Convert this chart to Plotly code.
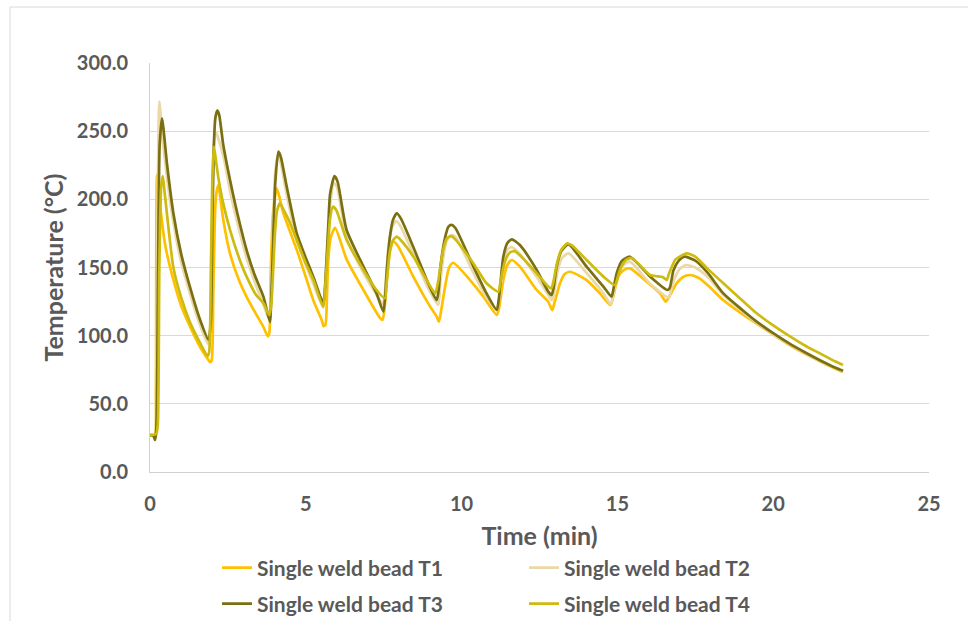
import plotly.graph_objects as go

# ---------------- data ----------------
series_names = ["Single weld bead T1", "Single weld bead T2",
                "Single weld bead T3", "Single weld bead T4"]

t1_time = [0, 0.15, 0.19, 0.23, 0.35, 0.5, 0.75, 1.0, 1.28, 1.6, 1.85, 1.93, 1.98,
           2.03, 2.08, 2.12, 2.19, 2.35, 2.57, 2.85, 3.1, 3.4, 3.64, 3.78,
           3.83, 3.88, 3.95, 4.07, 4.28, 4.71, 5.0, 5.24, 5.51, 5.57, 5.63,
           5.68, 5.72, 5.8, 5.94, 6.31, 6.85, 7.38, 7.46,
           7.52, 7.6, 7.7, 7.81, 7.95, 8.45, 8.99, 9.2, 9.27,
           9.32, 9.47, 9.6, 9.73, 10.27, 10.7, 11.13,
           11.2, 11.34, 11.47, 11.61, 11.87, 12.41, 12.78, 12.91,
           12.98, 13.16, 13.3, 13.48, 14.01, 14.44, 14.78,
           14.88, 15.03, 15.2, 15.4, 15.94, 16.37, 16.55,
           16.65, 16.9, 17.1, 17.33, 17.6, 17.9, 18.4, 19.0, 19.47, 20.0, 20.5, 21.0, 21.5, 22.0, 22.24]
t1_temp = [27, 27, 60, 218, 190, 165, 141, 122, 107, 92, 83, 80.5, 82,
           130, 185, 203, 210.5, 185, 160, 141, 128.5, 116, 106.5, 99.5,
           102, 150, 190, 208, 190, 163, 143, 126, 111.5, 107, 108,
           130, 155, 172, 179, 156, 133.5, 113, 111.5,
           118, 141, 162, 169, 166, 143.3, 121.3, 114, 110.3,
           115, 136, 150, 153.5, 140.8, 128.6, 115.2,
           120, 140.8, 152, 155.5, 150.6, 133.5, 124.9, 118.8,
           124, 138.4, 145, 146.9, 140.8, 131, 122.5,
           130, 143.3, 148, 149.4, 139.6, 131, 124.9,
           128, 138.4, 143, 144.5, 142.5, 137, 126, 116, 108.8, 100.8, 93.5, 87, 81.2, 75.8, 73.4]

t2_time = [0, 0.17, 0.2, 0.24, 0.3, 0.4, 0.55, 0.75, 1.0, 1.28, 1.6, 1.86,
           1.92, 1.98, 2.04, 2.1, 2.35, 2.57, 2.8, 3.1, 3.35, 3.64, 3.82,
           3.87, 3.95, 4.02, 4.1, 4.18, 4.39, 4.71, 5.0, 5.24, 5.55,
           5.6, 5.72, 5.8, 5.9, 6.0, 6.31, 6.85, 7.27, 7.48,
           7.55, 7.65, 7.78, 7.9, 8.02, 8.45, 8.88, 9.25,
           9.32, 9.47, 9.58, 9.7, 9.82, 10.38, 10.8, 11.12,
           11.2, 11.34, 11.47, 11.6, 11.87, 12.41, 12.78, 12.9,
           12.97, 13.08, 13.22, 13.43, 14.01, 14.55, 14.79,
           14.87, 14.98, 15.15, 15.4, 16.05, 16.57,
           16.65, 16.8, 17.0, 17.2, 17.5, 17.9, 18.4, 19.0, 19.47, 20.0, 20.5, 21.0, 21.5, 22.0, 22.24]
t2_temp = [27, 27, 40, 180, 271.6, 245, 215, 183, 154, 131, 108, 94,
           100, 180, 235, 250, 232, 206, 183, 157, 140, 123, 112,
           125, 180, 220, 232, 228, 203, 170, 152, 138, 121,
           128, 175, 200, 212, 209, 172, 146, 130, 123,
           135, 165, 180, 184, 181, 160, 137, 122.5,
           140, 165, 172, 174, 172, 146, 128, 120,
           126, 153, 163, 165, 160, 143, 130, 126,
           132, 147, 157, 160.4, 146, 131, 123,
           130, 142, 151, 154.3, 138, 128.6,
           128, 140, 149, 151.8, 150, 143, 130, 118, 109.5, 101, 94, 87.5, 81.5, 76, 73.6]

t3_time = [0, 0.1, 0.16, 0.2, 0.26, 0.31, 0.385, 0.55, 0.75, 1.0, 1.28, 1.6, 1.88,
           1.95, 2.0, 2.05, 2.1, 2.16, 2.22, 2.35, 2.57, 2.8, 3.1, 3.35, 3.64, 3.85,
           3.88, 3.96, 4.02, 4.12, 4.2, 4.39, 4.71, 5.0, 5.24, 5.56,
           5.6, 5.72, 5.78, 5.92, 6.02, 6.31, 6.85, 7.27, 7.49,
           7.55, 7.6, 7.7, 7.8, 7.92, 8.05, 8.45, 8.88, 9.2,
           9.27, 9.31, 9.47, 9.58, 9.68, 9.8, 10.38, 10.8, 11.13,
           11.2, 11.34, 11.47, 11.61, 11.87, 12.41, 12.78, 12.89,
           12.95, 13.05, 13.2, 13.43, 14.01, 14.55, 14.81,
           14.88, 14.98, 15.15, 15.4, 16.05, 16.6,
           16.68, 16.8, 16.97, 17.15, 17.5, 17.9, 18.4, 19.0, 19.47, 20.0, 20.5, 21.0, 21.5, 22.0, 22.24]
t3_temp = [27, 27, 23.5, 30, 150, 240, 259.4, 225, 189.8, 160, 135.9, 112, 96.8,
           110, 180, 240, 260, 265, 262, 240, 214, 190, 162.8, 145, 128.6, 110,
           120, 175, 212, 235, 231, 209, 175, 157, 143.3, 123.7,
           130, 180, 204, 217, 213, 177.5, 150.6, 131, 117.6,
           130, 148, 172.6, 185, 189.8, 186, 165, 141, 126,
           135, 148, 172, 180, 181.2, 179, 150.6, 131, 118.8,
           128, 158, 168, 170.7, 166.5, 148.2, 132.3, 129.8,
           135, 150.6, 162, 167, 150.6, 136, 128.6,
           135, 146, 155, 157.9, 143.3, 133.5,
           135, 148, 155, 157.9, 155, 146, 131, 119, 110.3, 101.8, 94.5, 88, 82, 76.5, 74.3]

t4_time = [0, 0.2, 0.25, 0.3, 0.36, 0.41, 0.47, 0.55, 0.75, 1.0, 1.28, 1.6, 1.85,
           1.9, 1.95, 2.0, 2.05, 2.12, 2.2, 2.35, 2.57, 2.89, 3.1, 3.4, 3.64, 3.83,
           3.9, 4.01, 4.08, 4.17, 4.27, 4.45, 4.71, 5.0, 5.24, 5.56,
           5.62, 5.72, 5.78, 5.87, 5.98, 6.31, 6.85, 7.27, 7.54,
           7.6, 7.7, 7.8, 7.92, 8.05, 8.45, 8.88, 9.15,
           9.25, 9.4, 9.52, 9.65, 9.78, 10.38, 10.8, 11.18,
           11.25, 11.4, 11.55, 11.7, 11.87, 12.41, 12.78, 12.88,
           12.95, 13.05, 13.2, 13.4, 13.55, 14.01, 14.55, 14.92,
           15.0, 15.08, 15.25, 15.46, 16.05, 16.45, 16.58,
           16.66, 16.85, 17.0, 17.22, 17.5, 17.9, 18.4, 19.0, 19.47, 20.0, 20.5, 21.0, 21.5, 22.0, 22.24]
t4_temp = [27, 28, 35, 150, 210, 217, 205, 188, 150, 128, 110, 95, 85,
           88, 140, 215, 238.6, 228, 215, 197, 177.5, 155, 143.3, 130, 123.7, 115,
           125, 175, 192, 197, 193, 185, 170, 153, 141, 121,
           135, 168, 186, 194.6, 192, 170.2, 148.2, 133.5, 127.4,
           140, 162, 170, 172.6, 170, 158, 140.8, 131,
           140, 162, 171, 173, 171, 153, 138.4, 132.3,
           140, 155, 161, 162, 159, 145.7, 136, 134.7,
           140, 152, 163, 167.7, 166, 155.5, 143.3, 137,
           142, 148, 155, 157, 144.5, 143, 140.8,
           145.7, 155.5, 158, 160.4, 158, 149, 138.4, 126, 116.4, 107.5, 100, 93, 87, 81, 78.5]

x_ticks = [0, 5, 10, 15, 20, 25]
y_ticks = [0, 50, 100, 150, 200, 250, 300]

colors = ["#FFC000", "#EAD9A6", "#7A7012", "#CDBB10"]

# ---------------- figure ----------------
W, H = 968, 621
L, R, T, B = 150, 39, 63, 149
pw, ph = W - L - R, H - T - B

def px_x(px):
    return (px - L) / pw

def px_y(py):
    return (H - B - py) / ph

font_fam = "Lato"
grey = "#595959"

fig = go.Figure()
data = [(t1_time, t1_temp), (t2_time, t2_temp), (t3_time, t3_temp), (t4_time, t4_temp)]
legend_ids = ["legend", "legend", "legend2", "legend2"]
for name, (tx, ty), col, lg in zip(series_names, data, colors, legend_ids):
    fig.add_trace(go.Scatter(x=tx, y=ty, mode="lines", name=name,
                             line=dict(color=col, width=2.7, shape="spline", smoothing=0.6),
                             legend=lg))

fig.update_layout(
    width=W, height=H,
    margin=dict(l=L, r=R, t=T, b=B, autoexpand=False),
    paper_bgcolor="white", plot_bgcolor="white",
    font=dict(family=font_fam, color=grey),
    xaxis=dict(range=[0, 25], tickvals=x_ticks, ticktext=[str(v) for v in x_ticks],
               showgrid=False, zeroline=False, showline=True, linecolor="#d0d0d0", linewidth=1,
               ticks="", ticklabelstandoff=14,
               tickfont=dict(family=font_fam, size=20, color=grey, weight="bold"),
               title=dict(text="Time (min)", standoff=13,
                          font=dict(family=font_fam, size=25, color=grey, weight="bold"))),
    yaxis=dict(range=[0, 300], tickvals=y_ticks, ticktext=[f"{v:.1f}" for v in y_ticks],
               showgrid=True, gridcolor="#d9d9d9", gridwidth=1, zeroline=False,
               showline=True, linecolor="#d0d0d0", linewidth=1,
               ticks="", ticklabelstandoff=17,
               tickfont=dict(family=font_fam, size=20, color=grey, weight="bold"),
               title=dict(text="Temperature (°C)", standoff=6,
                          font=dict(family=font_fam, size=25, color=grey, weight="bold"))),
    legend=dict(orientation="h", x=px_x(217), y=px_y(568), xanchor="left", yanchor="middle",
                entrywidth=262, entrywidthmode="pixels",
                font=dict(family=font_fam, size=21, color=grey, weight="bold"),
                bgcolor="rgba(0,0,0,0)"),
    legend2=dict(orientation="h", x=px_x(217), y=px_y(604), xanchor="left", yanchor="middle",
                 entrywidth=262, entrywidthmode="pixels",
                 font=dict(family=font_fam, size=21, color=grey, weight="bold"),
                 bgcolor="rgba(0,0,0,0)"),
    showlegend=True,
)

# outer chart-area border (visible on left and top edges)
fig.add_shape(type="line", xref="paper", yref="paper",
              x0=px_x(10), x1=px_x(10), y0=px_y(H + 5), y1=px_y(7),
              line=dict(color="#d9d9d9", width=1))
fig.add_shape(type="line", xref="paper", yref="paper",
              x0=px_x(10), x1=px_x(W + 5), y0=px_y(7), y1=px_y(7),
              line=dict(color="#d9d9d9", width=1))

fig.write_html("out.html")
